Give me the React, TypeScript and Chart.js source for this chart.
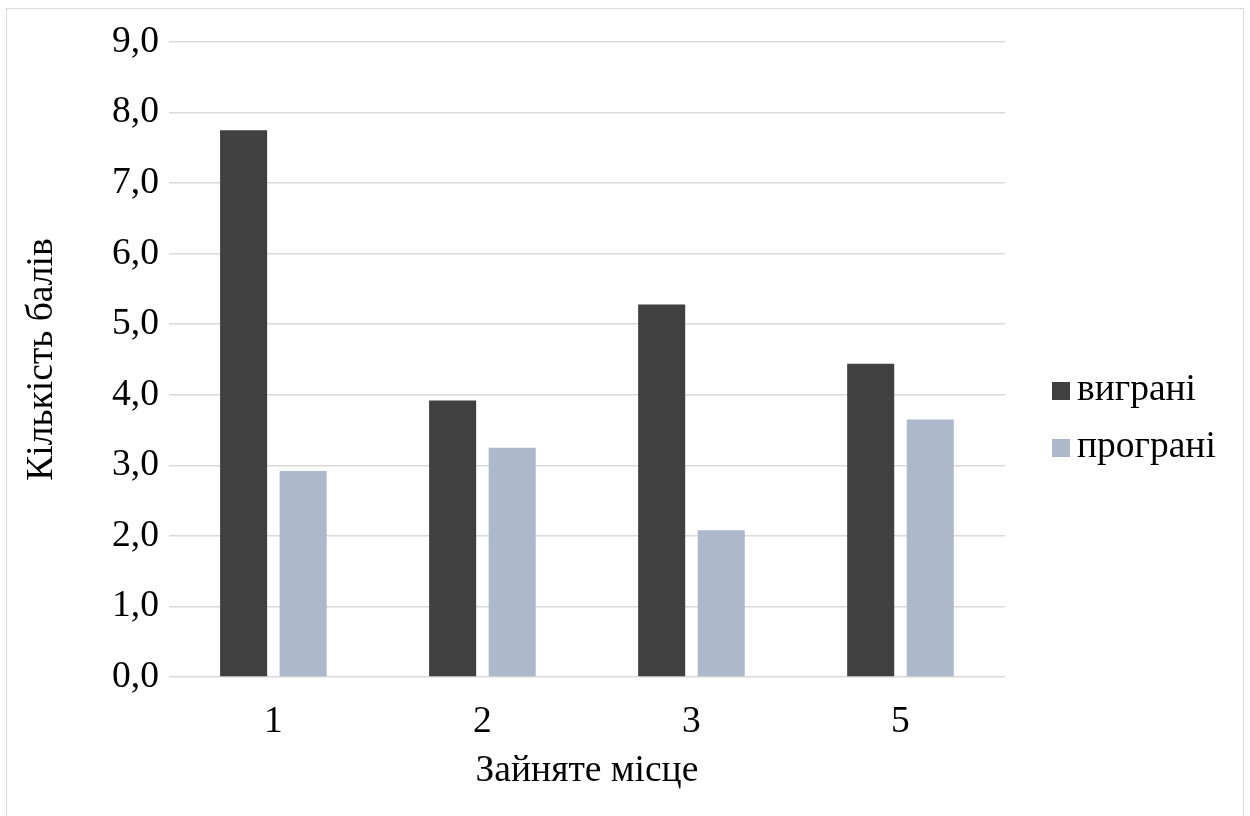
import { useEffect, useRef } from "react";
import { Chart, registerables } from "chart.js";

Chart.register(...registerables);

// Місця, які зайняла команда, та середня кількість балів
const places = ["1", "2", "3", "5"];
const wonPoints = [7.75, 3.92, 5.28, 4.44];
const lostPoints = [2.92, 3.25, 2.08, 3.65];
const seriesNames = ["виграні", "програні"];
const seriesColors = ["#404040", "#adb9ca"];
const yAxisTitle = "Кількість балів";
const xAxisTitle = "Зайняте місце";
const yMin = 0;
const yMax = 9;
const yStep = 1;

const FONT = "'Liberation Serif', 'Times New Roman', serif";
const SIZE = 37.5;

export default function App() {
  const canvasRef = useRef<HTMLCanvasElement | null>(null);

  useEffect(() => {
    if (!canvasRef.current) return;
    const chart = new Chart(canvasRef.current, {
      type: "bar",
      data: {
        labels: places,
        datasets: [
          {
            label: seriesNames[0],
            data: wonPoints,
            backgroundColor: seriesColors[0],
            categoryPercentage: 0.57,
            barPercentage: 0.79,
          },
          {
            label: seriesNames[1],
            data: lostPoints,
            backgroundColor: seriesColors[1],
            categoryPercentage: 0.57,
            barPercentage: 0.79,
          },
        ],
      },
      options: {
        responsive: false,
        animation: false,
        layout: { padding: { top: 33, right: 238, bottom: 22, left: 13 } },
        plugins: {
          legend: { display: false },
          tooltip: { enabled: false },
        },
        scales: {
          x: {
            grid: { display: false, drawTicks: false },
            border: { display: false },
            ticks: {
              color: "#000",
              padding: 23,
              font: { family: FONT, size: SIZE },
            },
            title: {
              display: true,
              text: xAxisTitle,
              color: "#000",
              font: { family: FONT, size: SIZE },
              padding: { top: -19, bottom: 0 },
            },
          },
          y: {
            min: yMin,
            max: yMax,
            grid: { color: "#d9d9d9", lineWidth: 1.5, drawTicks: false },
            border: { display: false },
            ticks: {
              stepSize: yStep,
              color: "#000",
              padding: 10,
              font: { family: FONT, size: SIZE },
              callback: (v) => Number(v).toFixed(1).replace(".", ","),
            },
            title: {
              display: true,
              text: yAxisTitle,
              color: "#000",
              font: { family: FONT, size: SIZE },
              padding: { top: 0, bottom: 37 },
            },
          },
        },
      },
    });
    return () => chart.destroy();
  }, []);

  return (
    <div
      style={{
        position: "absolute",
        left: 6,
        top: 8,
        width: 1238,
        height: 808,
        boxSizing: "border-box",
        borderTop: "1px solid #d9d9d9",
        borderLeft: "1px solid #d9d9d9",
        borderRight: "1px solid #d9d9d9",
        background: "#fff",
        overflow: "hidden",
      }}
    >
      <canvas ref={canvasRef} width={1236} height={807} style={{ display: "block" }} />
      <div style={{ position: "absolute", left: 1045, top: 356, fontFamily: FONT, fontSize: SIZE, color: "#000" }}>
        {seriesNames.map((name, i) => (
          <div key={name} style={{ display: "flex", alignItems: "flex-start", height: 57, lineHeight: "45px" }}>
            <span
              style={{
                display: "inline-block",
                width: 18,
                height: 18,
                marginTop: 17,
                marginRight: 7,
                background: seriesColors[i],
              }}
            />
            <span>{name}</span>
          </div>
        ))}
      </div>
    </div>
  );
}
